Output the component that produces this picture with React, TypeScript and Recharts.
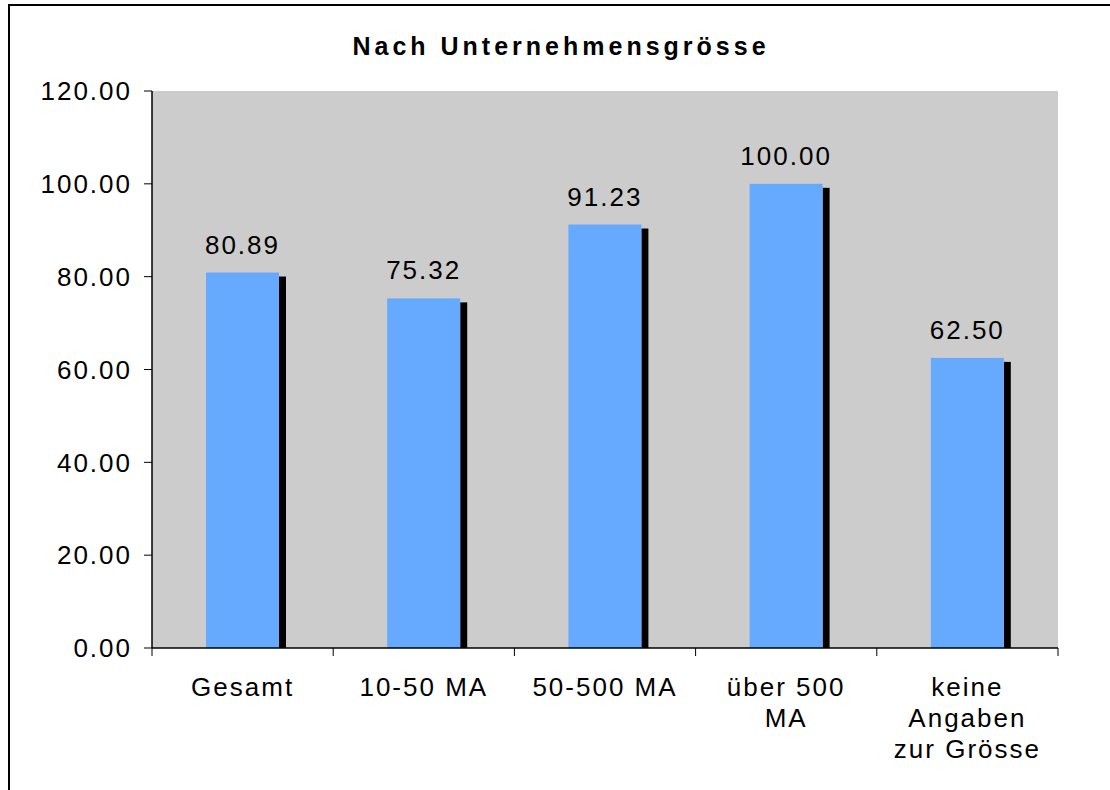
import React from "react";
import { BarChart, Bar, XAxis, YAxis, CartesianGrid, LabelList } from "recharts";

const categories = ["Gesamt", "10-50 MA", "50-500 MA", "über 500\nMA", "keine\nAngaben\nzur Grösse"];
const values = [80.89, 75.32, 91.23, 100.0, 62.5];
const yTicks = [0, 20, 40, 60, 80, 100, 120];

const data = categories.map((name, i) => ({ name, value: values[i] }));

const W = 1110;
const H = 790;
const MARGIN = { top: 91, right: 52, bottom: 0, left: 12 };
const Y_WIDTH = 140;
const X_HEIGHT = 142;
const BAND = (W - MARGIN.left - MARGIN.right - Y_WIDTH) / categories.length;
const FONT = "'Liberation Sans', Arial, sans-serif";

function ShadowBar(props: any) {
  const { x, y, width, height } = props;
  if (!height || height <= 0) return null;
  return (
    <g>
      <rect x={x + width} y={y + 4} width={7} height={Math.max(0, height - 4)} fill="#000" />
      <rect x={x} y={y} width={width} height={height} fill="#66AAFF" />
    </g>
  );
}

function CategoryTick(props: any) {
  const { x, y, payload, index } = props;
  const lines = String(payload.value).split("\n");
  return (
    <g>
      <line x1={x - BAND / 2} x2={x - BAND / 2} y1={y} y2={y + 8} stroke="#000" />
      {index === categories.length - 1 && (
        <line x1={x + BAND / 2} x2={x + BAND / 2} y1={y} y2={y + 8} stroke="#000" />
      )}
      <text
        x={x}
        y={y + 39}
        textAnchor="middle"
        fontFamily={FONT}
        fontSize={26}
        fill="#000"
        style={{ letterSpacing: 2 }}
      >
        {lines.map((l, i) => (
          <tspan key={i} x={x} dy={i === 0 ? "0.35em" : 31}>
            {l}
          </tspan>
        ))}
      </text>
    </g>
  );
}

function ValueLabel(props: any) {
  const { x, y, width, value } = props;
  return (
    <text
      x={x + width / 2}
      y={y - 19}
      textAnchor="middle"
      fontFamily={FONT}
      fontSize={26}
      fill="#000"
      style={{ letterSpacing: 2 }}
    >
      {Number(value).toFixed(2)}
    </text>
  );
}

export default function App() {
  return (
    <div style={{ position: "absolute", left: 0, top: 0, width: W, height: H, background: "#fff", overflow: "hidden" }}>
      <div
        style={{
          position: "absolute",
          left: 8,
          top: 4,
          width: W,
          height: H,
          borderLeft: "2px solid #000",
          borderTop: "2px solid #000",
        }}
      />
      <div
        style={{
          position: "absolute",
          left: 0,
          top: 31,
          width: W,
          boxSizing: "border-box",
          paddingLeft: 12,
          textAlign: "center",
          fontFamily: FONT,
          fontWeight: "bold",
          fontSize: 25,
          letterSpacing: 4,
          lineHeight: "30px",
          color: "#000",
        }}
      >
        Nach Unternehmensgrösse
      </div>
      <div style={{ position: "absolute", left: 0, top: 0 }}>
        <BarChart width={W} height={H} data={data} margin={MARGIN} barCategoryGap={0}>
          <CartesianGrid horizontal={false} vertical={false} fill="#CCCCCC" />
          <XAxis
            xAxisId="top"
            orientation="top"
            dataKey="name"
            height={0}
            tick={false}
            tickLine={false}
            axisLine={{ stroke: "#808080", strokeWidth: 2 }}
          />
          <YAxis
            yAxisId="right"
            orientation="right"
            width={0}
            domain={[0, 120]}
            ticks={yTicks}
            tick={false}
            tickLine={false}
            axisLine={{ stroke: "#808080", strokeWidth: 2 }}
          />
          <XAxis
            dataKey="name"
            height={X_HEIGHT}
            interval={0}
            tickLine={false}
            tickSize={0}
            tickMargin={0}
            axisLine={{ stroke: "#000", strokeWidth: 1.5 }}
            tick={<CategoryTick />}
          />
          <YAxis
            width={Y_WIDTH}
            domain={[0, 120]}
            ticks={yTicks}
            interval={0}
            tickSize={8}
            tickMargin={12}
            tickLine={{ stroke: "#000" }}
            axisLine={{ stroke: "#000", strokeWidth: 1.5 }}
            tickFormatter={(v: number) => v.toFixed(2)}
            tick={{ fontSize: 26, fill: "#000", fontFamily: FONT, style: { letterSpacing: 2 } }}
          />
          <Bar dataKey="value" barSize={73} shape={<ShadowBar />} isAnimationActive={false}>
            <LabelList dataKey="value" content={<ValueLabel />} />
          </Bar>
        </BarChart>
      </div>
    </div>
  );
}
